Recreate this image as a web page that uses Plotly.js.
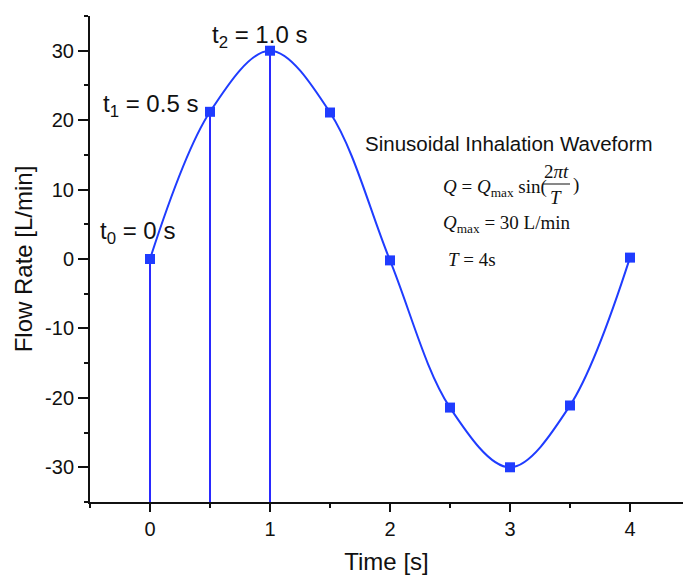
<!DOCTYPE html>
<html>
<head>
<meta charset="utf-8">
<script src="https://cdn.plot.ly/plotly-3.0.1.min.js"></script>
<style>html,body{margin:0;padding:0;background:#fff;}#chart{width:683px;height:576px;}</style>
</head>
<body>
<div id="chart"></div>
<script>
// ---- data ----
var timeS = [0, 0.5, 1, 1.5, 2, 2.5, 3, 3.5, 4];
var flowLmin = [0, 21.2, 30, 21.1, -0.2, -21.4, -30, -21.1, 0.2];
var dropTimes = [0, 0.5, 1];
var xTickVals = [0, 1, 2, 3, 4];
var yTickVals = [-30, -20, -10, 0, 10, 20, 30];

// ---- layout geometry ----
var W = 683, H = 576;
var M = {l: 90, r: 0, t: 16, b: 74};
var xRange = [-0.5, -0.5 + (W - M.l - M.r) / 120];
var yRange = [-35, 35];
function px(p) { return (p - M.l) / (W - M.l - M.r); }
function py(p) { return (H - M.b - p) / (H - M.t - M.b); }

var blue = '#1f3cff';
var traces = [];
dropTimes.forEach(function (t) {
  var i = timeS.indexOf(t);
  traces.push({
    x: [t, t], y: [yRange[0], flowLmin[i]],
    mode: 'lines', line: {color: '#2a2aff', width: 2},
    hoverinfo: 'skip', showlegend: false
  });
});
traces.push({
  x: timeS, y: flowLmin, mode: 'lines+markers',
  line: {color: blue, width: 2, shape: 'spline', smoothing: 1.0},
  marker: {symbol: 'square', size: 10, color: blue},
  showlegend: false
});

var sans = 'Liberation Sans, Arial, sans-serif';
var serif = 'Liberation Serif, Times New Roman, serif';
var lblFont = {family: sans, size: 24, color: '#111'};
var mathFont = {family: serif, size: 19, color: '#111'};

function ann(text, x, y, xa, font) {
  return {text: text, xref: 'paper', yref: 'paper', x: px(x), y: py(y),
    xanchor: xa, yanchor: 'middle', showarrow: false, font: font};
}

var annotations = [
  ann('t<sub>0</sub> = 0 s', 98, 232, 'left', lblFont),
  ann('t<sub>1</sub> = 0.5 s', 101, 105, 'left', lblFont),
  ann('t<sub>2</sub> = 1.0 s', 210, 37, 'left', lblFont),
  ann('Sinusoidal Inhalation Waveform', 509, 143, 'center', {family: sans, size: 20.5, color: '#111'}),
  ann('<i>Q</i> = <i>Q</i><sub>max</sub> sin(', 441, 188, 'left', mathFont),
  ann('2<i>πt</i>', 556, 171, 'center', mathFont),
  ann('<i>T</i>', 556, 197, 'center', mathFont),
  ann(')', 571, 185, 'left', mathFont),
  ann('<i>Q</i><sub>max</sub> = 30 L/min', 441, 224, 'left', mathFont),
  ann('<i>T</i> = 4s', 446, 259, 'left', mathFont)
];

var layout = {
  width: W, height: H,
  margin: M,
  paper_bgcolor: '#fff', plot_bgcolor: '#fff',
  showlegend: false,
  xaxis: {
    range: xRange, showgrid: false, zeroline: false,
    showline: true, linecolor: '#111', linewidth: 2,
    tickmode: 'array', tickvals: xTickVals, ticktext: xTickVals.map(String),
    ticks: 'outside', ticklen: 8, tickwidth: 2, tickcolor: '#111',
    minor: {dtick: 0.5, tick0: -0.5, ticks: 'outside', ticklen: 4, tickwidth: 2, tickcolor: '#111'},
    tickfont: {family: sans, size: 20, color: '#111'},
    title: {text: 'Time [s]', font: {family: sans, size: 24, color: '#111'}, standoff: 14}
  },
  yaxis: {
    range: yRange, showgrid: false, zeroline: false,
    showline: true, linecolor: '#111', linewidth: 2,
    tickmode: 'array', tickvals: yTickVals, ticktext: yTickVals.map(String),
    ticks: 'outside', ticklen: 10, tickwidth: 2, tickcolor: '#111',
    minor: {dtick: 5, tick0: -35, ticks: 'outside', ticklen: 4, tickwidth: 2, tickcolor: '#111'},
    tickfont: {family: sans, size: 20, color: '#111'},
    title: {text: 'Flow Rate [L/min]', font: {family: sans, size: 24, color: '#111'}, standoff: 6}
  },
  shapes: [{
    type: 'line', xref: 'paper', yref: 'paper',
    x0: px(543), x1: px(570), y0: py(184), y1: py(184),
    line: {color: '#111', width: 1}
  }],
  annotations: annotations
};

Plotly.newPlot('chart', traces, layout, {displayModeBar: false, staticPlot: true});
</script>
</body>
</html>
